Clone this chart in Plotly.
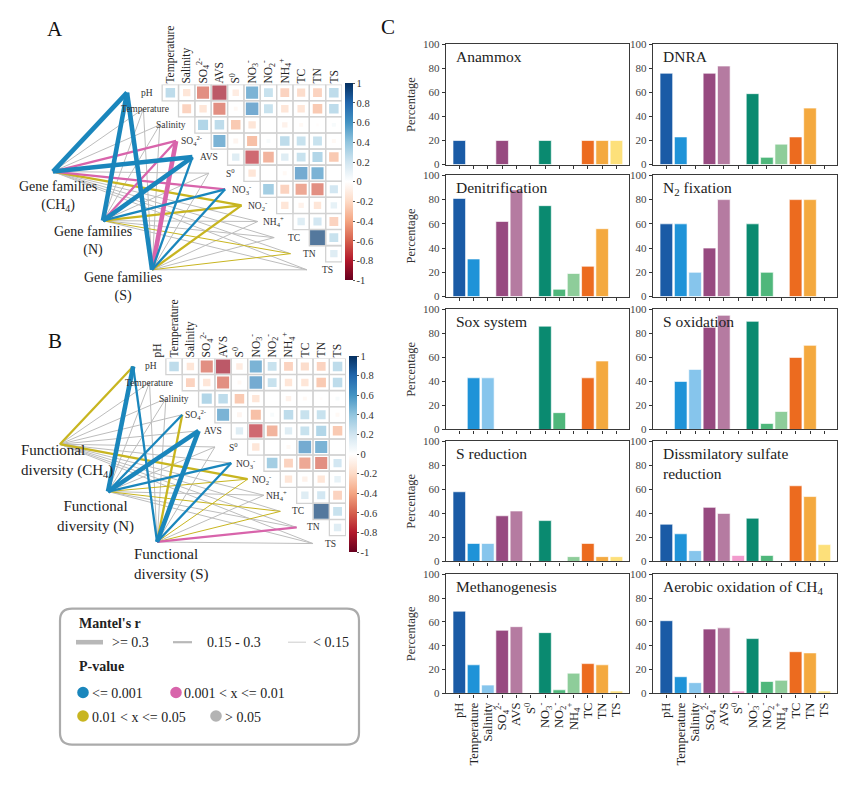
import plotly.graph_objects as go

W, H = 858, 791
SERIF = "Liberation Serif, Times New Roman, serif"

def fx(p):
    return p / W

def fy(p):
    return 1 - p / H

# ---------------- data ----------------
env_labels = ["pH", "Temperature", "Salinity", "SO<sub>4</sub><sup>2-</sup>", "AVS", "S<sup>0</sup>",
              "NO<sub>3</sub><sup>-</sup>", "NO<sub>2</sub><sup>-</sup>", "NH<sub>4</sub><sup>+</sup>",
              "TC", "TN", "TS"]

# Environmental correlation (upper triangle, each row vs the following variables)
corr_pH = [0.35, -0.2, -0.6, -0.85, -0.15, 0.6, 0.3, -0.3, -0.25, -0.3, 0.35]
corr_Temperature = [-0.3, -0.2, -0.6, -0.05, 0.65, 0.3, -0.2, -0.2, -0.35, 0.35]
corr_Salinity = [0.4, 0.35, -0.35, -0.2, 0.0, -0.1, -0.05, -0.02, 0.05]
corr_SO4 = [0.6, -0.08, -0.4, 0.05, 0.35, 0.3, 0.3, -0.05]
corr_AVS = [0.2, -0.75, -0.45, 0.2, 0.3, 0.4, -0.35]
corr_S0 = [-0.2, 0.0, -0.05, 0.65, 0.6, 0.0]
corr_NO3 = [0.45, -0.3, -0.5, -0.6, 0.25]
corr_NO2 = [-0.2, -0.1, -0.2, 0.15]
corr_NH4 = [0.2, 0.25, -0.3]
corr_TC = [0.95, 0.3]
corr_TN = [0.2]
corr_rows = [corr_pH, corr_Temperature, corr_Salinity, corr_SO4, corr_AVS, corr_S0,
             corr_NO3, corr_NO2, corr_NH4, corr_TC, corr_TN]

# Mantel tests, panel A (gene families)
mantelA_r_CH4 = [0.35, 0.1, 0.1, 0.2, 0.35, 0.1, 0.2, 0.2, 0.1, 0.1, 0.1, 0.1]
mantelA_p_CH4 = [0.001, 0.3, 0.3, 0.005, 0.001, 0.3, 0.005, 0.03, 0.3, 0.3, 0.3, 0.3]
mantelA_r_N = [0.35, 0.1, 0.1, 0.2, 0.35, 0.1, 0.2, 0.2, 0.1, 0.1, 0.1, 0.1]
mantelA_p_N = [0.001, 0.3, 0.3, 0.005, 0.001, 0.3, 0.001, 0.03, 0.3, 0.3, 0.03, 0.3]
mantelA_r_S = [0.35, 0.1, 0.1, 0.35, 0.2, 0.1, 0.2, 0.2, 0.1, 0.1, 0.1, 0.1]
mantelA_p_S = [0.001, 0.3, 0.3, 0.005, 0.001, 0.3, 0.001, 0.03, 0.3, 0.3, 0.03, 0.3]
# Mantel tests, panel B (functional diversity)
mantelB_r_CH4 = [0.2, 0.1, 0.1, 0.1, 0.1, 0.1, 0.1, 0.2, 0.1, 0.1, 0.1, 0.1]
mantelB_p_CH4 = [0.03, 0.3, 0.3, 0.3, 0.3, 0.3, 0.3, 0.03, 0.3, 0.3, 0.3, 0.3]
mantelB_r_N = [0.35, 0.1, 0.1, 0.2, 0.35, 0.1, 0.2, 0.1, 0.1, 0.1, 0.1, 0.1]
mantelB_p_N = [0.001, 0.3, 0.3, 0.001, 0.001, 0.3, 0.001, 0.03, 0.3, 0.03, 0.3, 0.3]
mantelB_r_S = [0.2, 0.1, 0.1, 0.2, 0.35, 0.1, 0.2, 0.1, 0.1, 0.1, 0.2, 0.1]
mantelB_p_S = [0.001, 0.3, 0.3, 0.03, 0.001, 0.3, 0.001, 0.03, 0.3, 0.03, 0.005, 0.3]

# Panel C percentages
anammox = [20, 0, 0, 20, 0, 0, 20, 0, 0, 20, 20, 20]
dnra = [76, 23, 0, 76, 82, 0, 59, 6, 17, 23, 47, 0]
denitrification = [81, 31, 0, 62, 88, 0, 75, 6, 19, 25, 56, 0]
n2_fixation = [60, 60, 20, 40, 80, 0, 60, 20, 0, 80, 80, 0]
sox_system = [0, 43, 43, 0, 0, 0, 86, 14, 0, 43, 57, 0]
s_oxidation = [0, 40, 50, 85, 95, 0, 90, 5, 15, 60, 70, 0]
s_reduction = [58, 15, 15, 38, 42, 0, 34, 0, 4, 15, 4, 4]
dissimilatory = [31, 23, 9, 45, 40, 5, 36, 5, 0, 63, 54, 14]
methanogenesis = [69, 24, 7, 53, 56, 0, 51, 3, 17, 25, 24, 2]
aerobic_ch4 = [61, 14, 9, 54, 55, 2, 46, 10, 11, 35, 34, 2]

pathway_titles = ["Anammox", "DNRA", "Denitrification", "N<sub>2</sub> fixation", "Sox system",
                  "S oxidation", "S reduction", "Dissmilatory sulfate<br>reduction",
                  "Methanogenesis", "Aerobic oxidation of CH<sub>4</sub>"]
pathway_values = [anammox, dnra, denitrification, n2_fixation, sox_system, s_oxidation,
                  s_reduction, dissimilatory, methanogenesis, aerobic_ch4]

bar_colors = ["#1a5ba6", "#1f93d8", "#86c5ec", "#974a80", "#b57ba1", "#f29bcd",
              "#0a8a70", "#4fb77b", "#8ecd9a", "#ec6b1f", "#f4a93f", "#fde07a"]

# ---------------- styles ----------------
RDBU = ["#67001f", "#b2182b", "#d6604d", "#f4a582", "#fddbc7", "#ffffff",
        "#d1e5f0", "#92c5de", "#4393c3", "#2166ac", "#053061"]
COLORSCALE = [[k / 10, c] for k, c in enumerate(RDBU)]
C_BLUE, C_PINK, C_YELLOW, C_GREY = "#1a86bc", "#d864ab", "#c8b520", "#bdbdbd"


def p_color(p):
    if p <= 0.001:
        return C_BLUE
    if p <= 0.01:
        return C_PINK
    if p <= 0.05:
        return C_YELLOW
    return C_GREY


def r_width(r):
    if r >= 0.3:
        return 4.6
    if r >= 0.15:
        return 2.3
    return 1.0


fig = go.Figure()
layout = {}
annotations = []
shapes = []


def add_corr_panel(ax_id, j0, i0, c, px_x, px_y, col_start, mantel, nodes, end_dx, cb):
    xa = "x" if ax_id == 1 else f"x{ax_id}"
    ya = "y" if ax_id == 1 else f"y{ax_id}"
    xkey = "xaxis" if ax_id == 1 else f"xaxis{ax_id}"
    ykey = "yaxis" if ax_id == 1 else f"yaxis{ax_id}"
    # Mantel lines grouped by style
    groups = {}
    for (nx, ny), (rs, ps) in zip(nodes, mantel):
        for i, (r, p) in enumerate(zip(rs, ps)):
            key = (p_color(p), r_width(r))
            gx, gy = groups.setdefault(key, ([], []))
            gx += [nx, i + end_dx, None]
            gy += [ny, i, None]
    order = {C_GREY: 0, C_YELLOW: 1, C_PINK: 2, C_BLUE: 3}
    for (col, wid) in sorted(groups, key=lambda k: (order[k[0]], k[1])):
        gx, gy = groups[(col, wid)]
        fig.add_trace(go.Scatter(x=gx, y=gy, mode="lines", line=dict(color=col, width=wid),
                                 xaxis=xa, yaxis=ya, hoverinfo="skip", showlegend=False))
    # grid + squares
    cx, cy, cr = [], [], []
    for i, row in enumerate(corr_rows):
        for k, r in enumerate(row):
            cx.append(i + 1 + k)
            cy.append(i)
            cr.append(r)
    fig.add_trace(go.Scatter(x=cx, y=cy, mode="markers",
                             marker=dict(symbol="square-open", size=c, color="#d2d2d2",
                                         line=dict(width=1.3, color="#d2d2d2")),
                             xaxis=xa, yaxis=ya, hoverinfo="skip", showlegend=False))
    fig.add_trace(go.Scatter(
        x=cx, y=cy, mode="markers",
        marker=dict(symbol="square", size=[c * 0.93 * abs(r) ** 0.45 for r in cr], color=cr,
                    colorscale=COLORSCALE, cmin=-1, cmax=1, line=dict(width=0), showscale=True,
                    colorbar=dict(x=fx(cb[0]), xanchor="left", y=fy((cb[2] + cb[3]) / 2),
                                  yanchor="middle", len=cb[3] - cb[2], lenmode="pixels",
                                  thickness=cb[1] - cb[0], thicknessmode="pixels",
                                  xpad=0, ypad=0, outlinewidth=0,
                                  tickvals=[1, 0.8, 0.6, 0.4, 0.2, 0, -0.2, -0.4, -0.6, -0.8, -1],
                                  ticktext=["1", "0.8", "0.6", "0.4", "0.2", "0", "-0.2", "-0.4",
                                            "-0.6", "-0.8", "-1"],
                                  ticks="outside", ticklen=2, tickcolor="#555",
                                  tickfont=dict(family=SERIF, size=10.5, color="#333"))),
        xaxis=xa, yaxis=ya, hoverinfo="skip", showlegend=False))
    # diagonal labels
    for i, lab in enumerate(env_labels):
        annotations.append(dict(x=i + 0.05, y=i, xref=xa, yref=ya, text=lab, showarrow=False,
                                xanchor="right", yanchor="middle",
                                font=dict(family=SERIF, size=9.5, color="#333")))
    layout[xkey] = dict(domain=[fx(px_x[0]), fx(px_x[1])], anchor=ya,
                        range=[(px_x[0] - j0) / c, (px_x[1] - j0) / c], side="top",
                        tickvals=list(range(col_start, 12)), ticktext=env_labels[col_start:],
                        tickangle=-90, ticks="", showgrid=False, zeroline=False, showline=False,
                        tickfont=dict(family=SERIF, size=11.5, color="#222"))
    layout[ykey] = dict(domain=[fy(px_y[1]), fy(px_y[0])], anchor=xa,
                        range=[(px_y[1] - i0) / c, (px_y[0] - i0) / c], visible=False)


cA = 16.35
add_corr_panel(1, 154, 88, cA, (0, 342), (88 - cA / 2, 300), 1,
               [(mantelA_r_CH4, mantelA_p_CH4), (mantelA_r_N, mantelA_p_N), (mantelA_r_S, mantelA_p_S)],
               [(-6.18, 4.9), (-3.12, 7.95), (-0.12, 11.0)], -1.65, (345, 353, 80, 277))
add_corr_panel(2, 157.7, 366, cA, (0, 346), (366 - cA / 2, 560), 0,
               [(mantelB_r_CH4, mantelB_p_CH4), (mantelB_r_N, mantelB_p_N), (mantelB_r_S, mantelB_p_S)],
               [(-5.98, 4.83), (-3.04, 7.77), (-0.04, 10.9)], -1.5, (349, 357, 357, 553))

# node labels
node_labels = [
    ("Gene families<br>(CH<sub>4</sub>)", 58, 193, "center", 14),
    ("Gene families<br>(N)", 93, 239, "center", 14),
    ("Gene families<br>(S)", 123, 285, "center", 14),
    ("Functional<br>diversity (CH<sub>4</sub>)", 19, 462, "left", 15),
    ("Functional<br>diversity (N)", 95, 518, "center", 15),
    ("Functional<br>diversity (S)", 132, 567, "left", 15),
]
for txt, x, y, al, fs in node_labels:
    annotations.append(dict(x=fx(x), y=fy(y), xref="paper", yref="paper", text=txt, showarrow=False,
                            xanchor=al, yanchor="middle", align=al,
                            font=dict(family=SERIF, size=fs, color="#222")))

# panel letters
for letter, x, y in [("A", 55, 23), ("B", 55, 340), ("C", 388, 21)]:
    annotations.append(dict(x=fx(x), y=fy(y), xref="paper", yref="paper", text=letter, showarrow=False,
                            xanchor="center", yanchor="middle",
                            font=dict(family=SERIF, size=21, color="#111")))

# ---------------- legend box ----------------
x0, y0, x1, y1, rr = 60, 612, 359, 750, 12
pts = lambda a, b: f"{fx(a):.5f},{fy(b):.5f}"
path = (f"M{pts(x0 + rr, y0)} L{pts(x1 - rr, y0)} Q{pts(x1, y0)} {pts(x1, y0 + rr)} "
        f"L{pts(x1, y1 - rr)} Q{pts(x1, y1)} {pts(x1 - rr, y1)} L{pts(x0 + rr, y1)} "
        f"Q{pts(x0, y1)} {pts(x0, y1 - rr)} L{pts(x0, y0 + rr)} Q{pts(x0, y0)} {pts(x0 + rr, y0)} Z")
shapes.append(dict(type="path", path=path, xref="paper", yref="paper",
                   line=dict(color="#ababab", width=2.2), fillcolor="rgba(0,0,0,0)"))
for (a, b, w, col) in [(76, 103, 4.6, "#b8b8b8"), (173, 192, 2.2, "#b8b8b8"), (288, 306, 1.0, "#cccccc")]:
    shapes.append(dict(type="line", xref="paper", yref="paper", x0=fx(a), x1=fx(b), y0=fy(646), y1=fy(646),
                       line=dict(color=col, width=w)))
for (cxp, cyp, col) in [(83, 697, C_BLUE), (176, 697, C_PINK), (83, 721, C_YELLOW), (216, 721, "#b3b3b3")]:
    shapes.append(dict(type="circle", xref="paper", yref="paper", x0=fx(cxp - 5.8), x1=fx(cxp + 5.8),
                       y0=fy(cyp + 5.8), y1=fy(cyp - 5.8), fillcolor=col, line=dict(width=0)))
legend_texts = [
    ("<b>Mantel's r</b>", 77, 627), ("<b>P-value</b>", 77, 671),
    (">= 0.3", 110, 646), ("0.15 - 0.3", 205, 646), ("< 0.15", 311, 646),
    ("<= 0.001", 90, 698), ("0.001 < x <= 0.01", 182, 698),
    ("0.01 < x <= 0.05", 90, 722), ("> 0.05", 223, 722),
]
for txt, x, y in legend_texts:
    annotations.append(dict(x=fx(x), y=fy(y), xref="paper", yref="paper", text=txt, showarrow=False,
                            xanchor="left", yanchor="middle",
                            font=dict(family=SERIF, size=14, color="#222")))

# ---------------- panel C bars ----------------
rows_px = [(39, 161), (172, 295), (308, 430), (442, 564), (577, 698)]
cols_px = [(446, 629), (653, 837)]
for k, (title, vals) in enumerate(zip(pathway_titles, pathway_values)):
    r, col = divmod(k, 2)
    n = k + 3
    xa, ya = f"x{n}", f"y{n}"
    fig.add_trace(go.Bar(x=list(range(12)), y=vals, width=0.88,
                         marker=dict(color=bar_colors, line=dict(color="rgba(255,255,255,0.8)", width=0.8)),
                         xaxis=xa, yaxis=ya, hoverinfo="skip", showlegend=False))
    cx0, cx1 = cols_px[col]
    ry0, ry1 = rows_px[r]
    layout[f"xaxis{n}"] = dict(domain=[fx(cx0), fx(cx1)], anchor=ya, range=[-0.93, 11.88],
                               tickvals=list(range(12)), ticktext=env_labels, showticklabels=(r == 4),
                               tickangle=-90, ticks="outside", ticklen=3, tickcolor="#333",
                               showline=True, mirror=True, linecolor="#3a3a3a", linewidth=1.4,
                               showgrid=False, zeroline=False,
                               tickfont=dict(family=SERIF, size=12.5, color="#222"))
    ydict = dict(domain=[fy(ry1), fy(ry0)], anchor=xa, range=[0, 100],
                 tickvals=[0, 20, 40, 60, 80, 100], ticks="outside", ticklen=3, tickcolor="#333",
                 showline=True, mirror=True, linecolor="#3a3a3a", linewidth=1.4,
                 showgrid=False, zeroline=False,
                 tickfont=dict(family=SERIF, size=11, color="#444"))
    if col == 0:
        ydict["title"] = dict(text="Percentage", standoff=4,
                              font=dict(family=SERIF, size=12.5, color="#333"))
    layout[f"yaxis{n}"] = ydict
    annotations.append(dict(x=0.045, y=1 - 2 / (ry1 - ry0), xref=f"{xa} domain", yref=f"{ya} domain",
                            text=title, showarrow=False, xanchor="left", yanchor="top", align="left",
                            font=dict(family=SERIF, size=15.5, color="#222")))

fig.update_layout(width=W, height=H, margin=dict(l=0, r=0, t=0, b=0),
                  paper_bgcolor="white", plot_bgcolor="white", showlegend=False,
                  font=dict(family=SERIF, color="#222"),
                  annotations=annotations, shapes=shapes, **layout)

fig.write_html("out.html")
